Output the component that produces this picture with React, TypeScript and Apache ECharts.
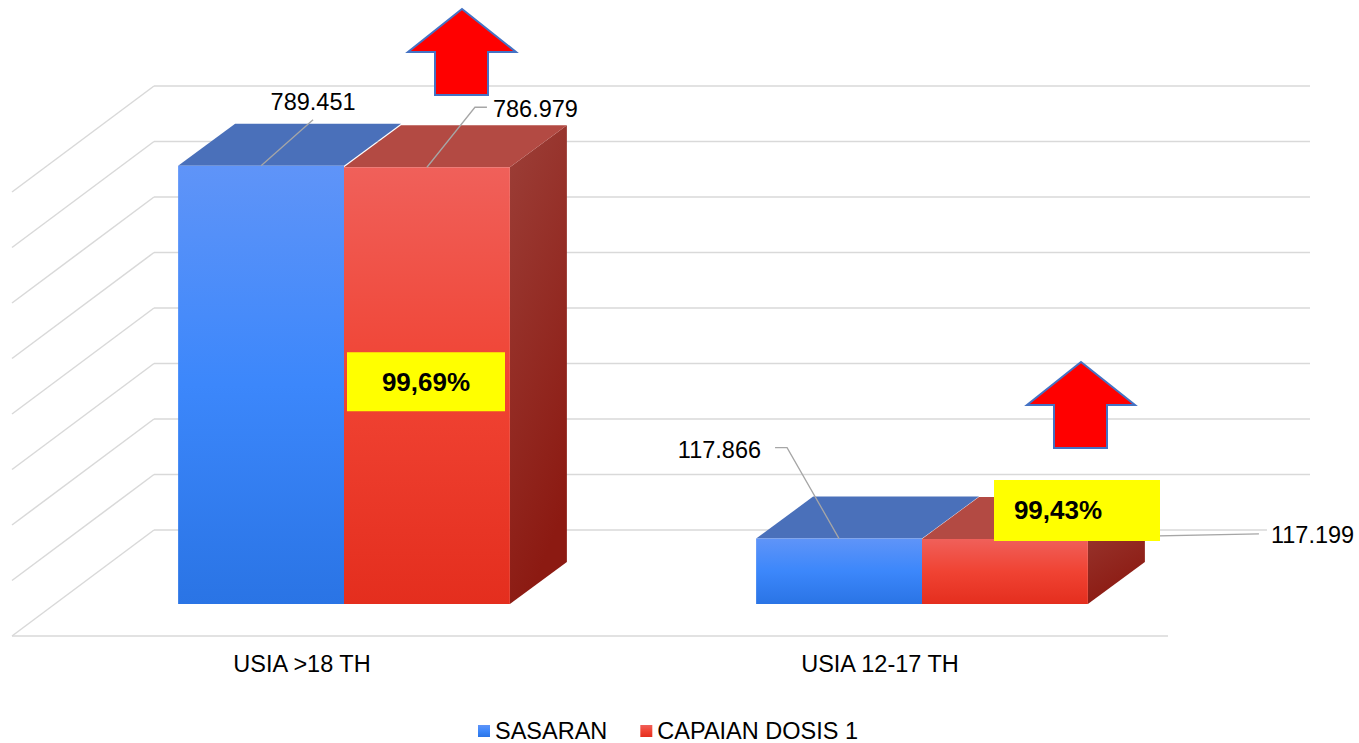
import React, { useEffect, useRef } from 'react';
import * as echarts from 'echarts';

// ---------- data ----------
const categories = ['USIA >18 TH', 'USIA 12-17 TH'];
const seriesNames = ['SASARAN', 'CAPAIAN DOSIS 1'];
const sasaran = [789451, 117866];
const capaian = [786979, 117199];
const percentLabels = ['99,69%', '99,43%'];
const yTicks = [0, 100000, 200000, 300000, 400000, 500000, 600000, 700000, 800000];

// ---------- styling / layout ----------
const FONT = "'Liberation Sans', Arial, sans-serif";
const FS = 23.5;
const BACK = [99, -74]; // offset of back wall from bar front plane
const FRONT = [-43, 32]; // offset of floor front edge from bar front plane
const BAR_DEPTH = [57, -42];
const BAR_FRAC = 0.287;
const GRID_COLOR = '#D9D9D9';

// per series, per item label layout (relative to front-top middle of bar)
const labelLayout = [
  [
    { line: [[52, -46]], text: [52, -64], align: 'center' },
    { line: [[-52, -91], [-64, -91]], text: [-74, -89], align: 'right' },
  ],
  [
    { line: [[48, -60], [60, -60]], text: [62, -58], align: 'left' },
    { line: [[254, -5]], text: [262, -4], align: 'left' },
  ],
];
// yellow boxes relative to red front face (left, top)
const boxLayout = [
  { dx: 3, dy: 185, w: 158, h: 59, tx: 79 },
  { dx: 72, dy: -59, w: 166, h: 61, tx: 64 },
];

const fmt = (v: number) => String(v).replace(/\B(?=(\d{3})+(?!\d))/g, '.');

const grad = (stops: [number, string][], x2 = 0, y2 = 1) =>
  new echarts.graphic.LinearGradient(0, 0, x2, y2, stops.map(([offset, color]) => ({ offset, color })));

const blueFront = () => grad([[0, '#5F94F8'], [0.5, '#3C87FB'], [1, '#2A74E5']]);
const redFront = () => grad([[0, '#F0605A'], [0.5, '#F04333'], [1, '#E42E1E']]);
const redSide = () => grad([[0, '#9C3F38'], [1, '#8C1A12']], 0.3, 1);

export default function App() {
  const ref = useRef<HTMLDivElement>(null);

  useEffect(() => {
    if (!ref.current) return;
    const chart = echarts.init(ref.current, undefined, { renderer: 'svg' });

    const wallSeries = {
      type: 'custom',
      silent: true,
      z: 1,
      data: yTicks.map((v) => [0, v]),
      renderItem: (params: any, api: any) => {
        const cs = params.coordSys;
        const y = api.coord([0, api.value(1)])[1];
        const bx0 = cs.x + BACK[0];
        const bx1 = cs.x + cs.width + BACK[0];
        const by = y + BACK[1];
        const fx0 = cs.x + FRONT[0];
        const fy = y + FRONT[1];
        const style = { stroke: GRID_COLOR, lineWidth: 1.5, fill: null };
        const children: any[] = [
          { type: 'line', shape: { x1: bx0, y1: by, x2: bx1, y2: by }, style },
          { type: 'line', shape: { x1: bx0, y1: by, x2: fx0, y2: fy }, style },
        ];
        if (api.value(1) === 0) {
          children.push({
            type: 'line',
            shape: { x1: fx0, y1: fy, x2: cs.x + cs.width + FRONT[0], y2: fy },
            style,
          });
        }
        return { type: 'group', children };
      },
    };

    const makeBarSeries = (si: number, values: number[]) => ({
      type: 'custom',
      name: seriesNames[si],
      z: 2 + si,
      itemStyle: { color: si === 0 ? '#3C87FB' : '#F04333' },
      data: values.map((v, i) => [i, v]),
      renderItem: (params: any, api: any) => {
        const ci = api.value(0);
        const v = api.value(1);
        const top = api.coord([ci, v]);
        const base = api.coord([ci, 0]);
        const band = api.size([1, 0])[0];
        const w = band * BAR_FRAC;
        const x0 = si === 0 ? top[0] - w : top[0];
        const x1 = x0 + w;
        const yT = top[1];
        const yB = base[1];
        const [dx, dy] = BAR_DEPTH;
        const children: any[] = [];
        if (si === 1) {
          children.push({
            type: 'polygon',
            shape: { points: [[x1, yT], [x1 + dx, yT + dy], [x1 + dx, yB + dy], [x1, yB]] },
            style: { fill: redSide() },
          });
        }
        children.push({
          type: 'polygon',
          shape: { points: [[x0, yT], [x0 + dx, yT + dy], [x1 + dx, yT + dy], [x1, yT]] },
          style: { fill: si === 0 ? '#4A70BA' : '#B34A43' },
        });
        children.push({
          type: 'rect',
          shape: { x: x0, y: yT, width: w, height: yB - yT },
          style: { fill: si === 0 ? blueFront() : redFront() },
        });
        // value label with leader line
        const ax = (x0 + x1) / 2;
        const ay = yT;
        const lay = labelLayout[si][params.dataIndex];
        const pts = [[ax, ay], ...lay.line.map(([lx, ly]: number[]) => [ax + lx, ay + ly])];
        const boxes: any[] = [];
        if (si === 1) {
          const b = boxLayout[params.dataIndex];
          boxes.push({
            type: 'rect',
            shape: { x: x0 + b.dx, y: yT + b.dy, width: b.w, height: b.h },
            style: { fill: '#FFFF00' },
          });
          boxes.push({
            type: 'text',
            style: {
              text: percentLabels[params.dataIndex],
              x: x0 + b.dx + b.tx,
              y: yT + b.dy + b.h / 2,
              align: 'center',
              verticalAlign: 'middle',
              fontFamily: FONT,
              fontSize: 26,
              fontWeight: 'bold',
              fill: '#000',
            },
          });
        }
        children.push({
          type: 'polyline',
          shape: { points: pts },
          style: { stroke: '#A6A6A6', lineWidth: 1.3, fill: null },
        });
        children.push(...boxes);
        children.push({
          type: 'text',
          style: {
            text: fmt(v),
            x: ax + lay.text[0],
            y: ay + lay.text[1],
            align: lay.align,
            verticalAlign: 'middle',
            fontFamily: FONT,
            fontSize: FS,
            fill: '#000',
            backgroundColor: '#fff',
            padding: [2, 4, 2, 4],
          },
        });
        return { type: 'group', children };
      },
    });

    const arrow = (tx: number, ty: number) => ({
      type: 'polygon',
      z: 100,
      shape: {
        points: [
          [tx, ty],
          [tx + 54, ty + 43],
          [tx + 26, ty + 43],
          [tx + 26, ty + 86],
          [tx - 27, ty + 86],
          [tx - 27, ty + 43],
          [tx - 54, ty + 43],
        ],
      },
      style: { fill: '#FF0000', stroke: '#4472C4', lineWidth: 2 },
    });

    chart.setOption({
      animation: false,
      backgroundColor: '#fff',
      grid: { left: 55, right: 148, top: 160, bottom: 139 },
      xAxis: {
        type: 'category',
        data: categories,
        axisLine: { show: false },
        axisTick: { show: false },
        splitLine: { show: false },
        axisLabel: {
          margin: 48,
          fontSize: FS,
          color: '#000',
          fontFamily: FONT,
          padding: [0, 84, 0, 0],
        },
      },
      yAxis: {
        type: 'value',
        min: 0,
        max: 800000,
        interval: 100000,
        show: false,
        splitLine: { show: false },
      },
      legend: {
        left: 473,
        top: 713,
        icon: 'rect',
        itemWidth: 12,
        itemHeight: 12,
        itemGap: 33,
        textStyle: { fontSize: FS, color: '#000', fontFamily: FONT, lineHeight: 26 },
        data: [
          { name: seriesNames[0], itemStyle: { color: blueFront() } },
          { name: seriesNames[1], itemStyle: { color: redFront() } },
        ],
      },
      graphic: [arrow(462, 9), arrow(1081, 362)],
      series: [wallSeries, makeBarSeries(0, sasaran), makeBarSeries(1, capaian)],
    });

    return () => chart.dispose();
  }, []);

  return (
    <div
      ref={ref}
      style={{ position: 'absolute', left: 0, top: 0, width: 1359, height: 743, background: '#fff' }}
    />
  );
}
